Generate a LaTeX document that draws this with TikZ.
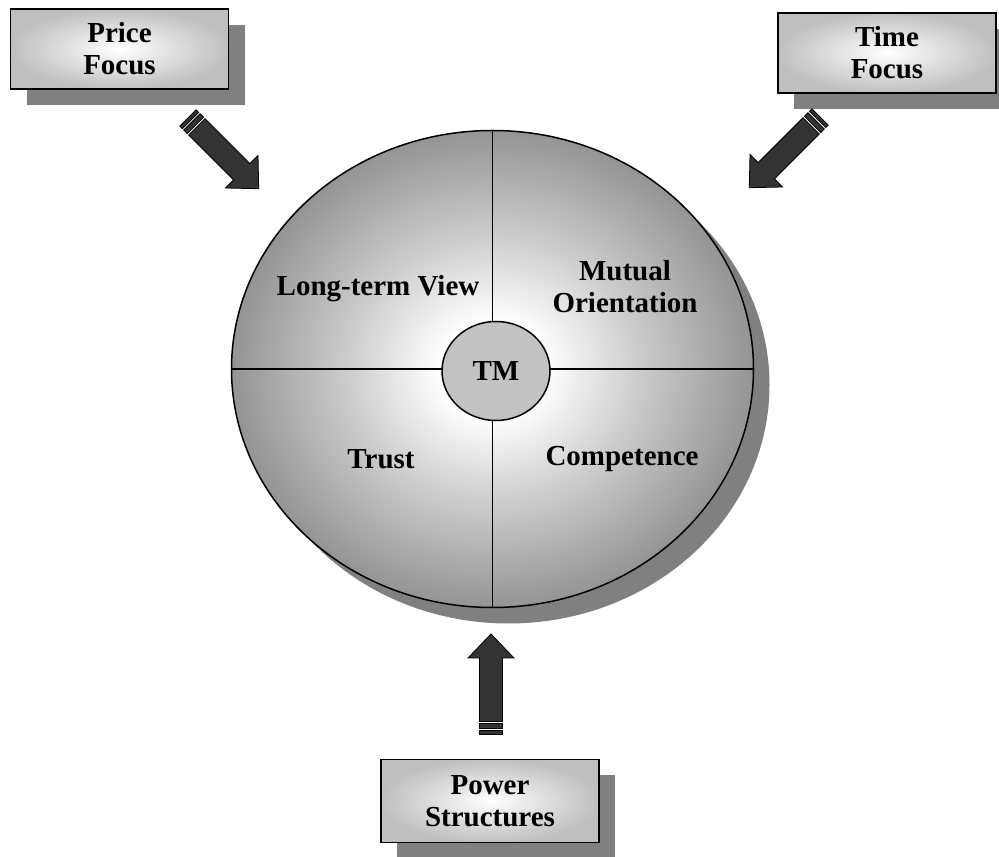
\documentclass[tikz,border=0pt]{standalone}
\usepackage{fontspec}
\setmainfont{Liberation Serif}
\usetikzlibrary{shapes.geometric, shadows}

\definecolor{rimgray}{gray}{0.58}
\definecolor{midgray}{gray}{0.80}
\definecolor{boxgray}{gray}{0.75}
\definecolor{shadowgray}{gray}{0.50}
\definecolor{tmgray}{gray}{0.76}
\definecolor{arrowgray}{gray}{0.20}

\pgfdeclareradialshading{ringshade}{\pgfpoint{0bp}{0bp}}{color(0bp)=(white); color(5bp)=(white); color(14bp)=(midgray); color(25bp)=(rimgray); color(50bp)=(rimgray)}
\pgfdeclareradialshading{boxshade}{\pgfpoint{0bp}{0bp}}{color(0bp)=(white); color(25bp)=(boxgray); color(50bp)=(boxgray)}

\begin{document}
\begin{tikzpicture}[x=1pt, y=1pt, font=\fontsize{29}{32}\selectfont\bfseries,
    focus/.style={rectangle, draw=black, line width=1.5pt, shading=boxshade, minimum width=218pt, minimum height=80pt, align=center,
        drop shadow={shadow xshift=16pt, shadow yshift=-16pt, fill=shadowgray, opacity=1}},
    ring/.style={ellipse, draw=black, line width=1.5pt, shading=ringshade, minimum width=522pt, minimum height=477pt, inner sep=0pt, outer sep=0pt,
        drop shadow={shadow xshift=16pt, shadow yshift=-16pt, fill=shadowgray, opacity=1}},
    hub/.style={ellipse, draw=black, line width=1.5pt, fill=tmgray, minimum width=108pt, minimum height=99pt, inner sep=0pt},
    quadline/.style={line width=1.5pt},
    arrowbody/.style={fill=arrowgray, draw=black, line width=0.8pt},
    fatarrow/.pic={
        \draw[arrowbody] (12.5,-11.5) -- (76,-11.5) -- (76,-23) -- (100,0) -- (76,23) -- (76,11.5) -- (12.5,11.5) -- cycle;
        \draw[arrowbody] (5.5,-11.5) rectangle (10.5,11.5);
        \draw[arrowbody] (0,-11.5) rectangle (3.5,11.5);
    }]

    \useasboundingbox (0,0) rectangle (999,857);

    % the three influences
    \node[focus] (price) at (119.5,808) {Price\\Focus};
    \node[focus] (time) at (887,804) {Time\\Focus};
    \node[focus, minimum height=83pt] (power) at (490,56) {Power\\Structures};

    % the circle and its four parts
    \node[ring] (circle) at (492.5,488) {};
    \draw[quadline] (circle.north) -- (circle.south);
    \draw[quadline] (circle.west) -- (circle.east);
    \node[hub] (tm) at (496,486) {TM};

    \node (longterm) at (378,568) {Long-term View};
    \node[align=center] (mutual) at (625,570) {Mutual\\Orientation};
    \node (trust) at (381,398) {Trust};
    \node (competence) at (622,398) {Competence};

    % arrows into the circle
    \coordinate (price-tail) at (188,739);
    \coordinate (time-tail) at (820,740);
    \coordinate (power-tail) at (491,123);
    \pic[rotate=-45] at (price-tail) {fatarrow};
    \pic[rotate=-135] at (time-tail) {fatarrow};
    \pic[rotate=90] at (power-tail) {fatarrow};
\end{tikzpicture}
\end{document}
